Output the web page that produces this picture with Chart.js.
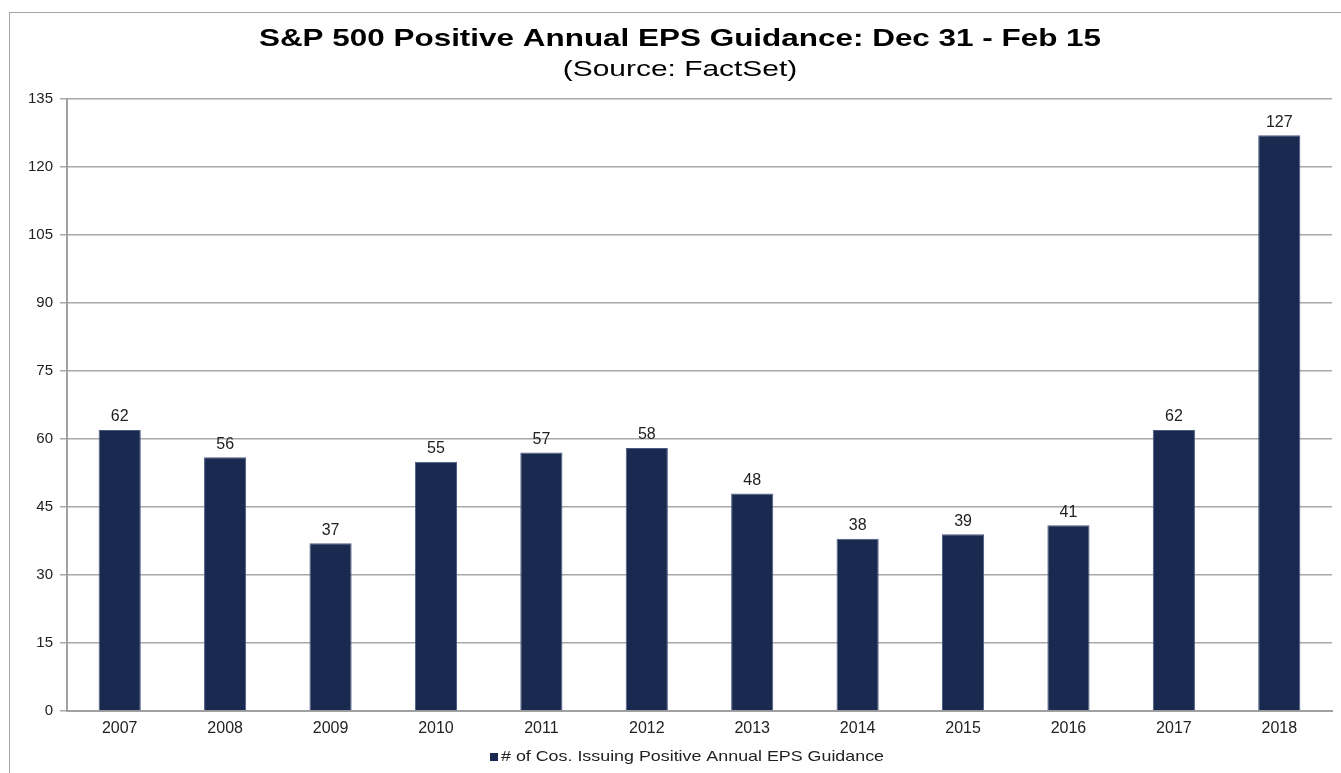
<!DOCTYPE html>
<html>
<head>
<meta charset="utf-8">
<script src="https://cdn.jsdelivr.net/npm/chart.js@4"></script>
<style>
  html, body { margin: 0; padding: 0; background: #fff; overflow: hidden; }
  #wrap { position: relative; width: 1341px; height: 773px; }
  #frame { position: absolute; left: 9px; top: 12px; width: 1400px; height: 800px; border: 1px solid #a6a6a6; box-sizing: border-box; }
  canvas { position: absolute; left: 0; top: 0; }
</style>
</head>
<body>
<div id="wrap">
  <div id="frame"></div>
  <canvas id="chartEps" width="1341" height="773"></canvas>
</div>
<script>
// data dari grafik
const tahun = ["2007", "2008", "2009", "2010", "2011", "2012", "2013", "2014", "2015", "2016", "2017", "2018"];
const jumlahPositif = [62, 56, 37, 55, 57, 58, 48, 38, 39, 41, 62, 127];
const namaSeri = "# of Cos. Issuing Positive Annual EPS Guidance";
const judul = "S&P 500 Positive Annual EPS Guidance: Dec 31 - Feb 15";
const subJudul = "(Source: FactSet)";

const warnaBatang = "#19294f";
const fontDasar = "'Liberation Sans', Arial, sans-serif";

// teks yang agak melebar (gambar asli ditarik horizontal)
function tulisMelebar(ctx, teks, x, y, font, skala, align) {
   ctx.save();
   ctx.font = font;
   ctx.textAlign = align || "center";
   ctx.textBaseline = "middle";
   ctx.translate(x, y);
   ctx.scale(skala, 1);
   ctx.fillText(teks, 0, 0);
   ctx.restore();
}

// judul, sub judul, legend & label angka digambar manual
const hiasan = {
   id: "hiasan",
   afterDatasetsDraw(chart) {
      const ctx = chart.ctx;
      const meta = chart.getDatasetMeta(0);
      ctx.save();
      ctx.fillStyle = "#222";
      ctx.font = "16px " + fontDasar;
      ctx.textAlign = "center";
      ctx.textBaseline = "bottom";
      meta.data.forEach(function(bar, i) {
         ctx.fillText(jumlahPositif[i], bar.x, bar.y - 5);
      });
      ctx.restore();

      ctx.fillStyle = "#000";
      tulisMelebar(ctx, judul, 680, 39, "bold 24px " + fontDasar, 1.31);
      tulisMelebar(ctx, subJudul, 680, 70, "22px " + fontDasar, 1.36);

      // legend di bawah
      ctx.save();
      ctx.fillStyle = warnaBatang;
      ctx.fillRect(490, 753, 8, 8);
      ctx.restore();
      ctx.fillStyle = "#222";
      tulisMelebar(ctx, namaSeri, 501, 757, "15px " + fontDasar, 1.19, "left");
   }
};

new Chart(document.getElementById("chartEps"), {
   type: "bar",
   data: {
      labels: tahun,
      datasets: [{
         label: namaSeri,
         data: jumlahPositif,
         backgroundColor: warnaBatang,
         borderColor: "#4a5a80",
         borderWidth: 1,
         categoryPercentage: 1,
         barPercentage: 0.4
      }]
   },
   options: {
      responsive: false,
      animation: false,
      devicePixelRatio: 1,
      layout: { padding: { left: 10, right: 9, top: 99, bottom: 0 } },
      plugins: {
         legend: { display: false },
         tooltip: { enabled: false }
      },
      scales: {
         x: {
            grid: { display: false, drawTicks: false },
            border: { color: "#a0a0a0", width: 2 },
            ticks: { color: "#222", font: { family: fontDasar, size: 16 }, padding: 8 },
            afterFit(scale) { scale.height = 62; }
         },
         y: {
            min: 0,
            max: 135,
            ticks: { stepSize: 15, color: "#222", font: { family: fontDasar, size: 15 }, padding: 7 },
            grid: { color: "#a8a8a8", lineWidth: 1.5, tickLength: 7 },
            border: { color: "#a0a0a0", width: 2 },
            afterFit(scale) { scale.width = 57; }
         }
      }
   },
   plugins: [hiasan]
});
</script>
</body>
</html>
